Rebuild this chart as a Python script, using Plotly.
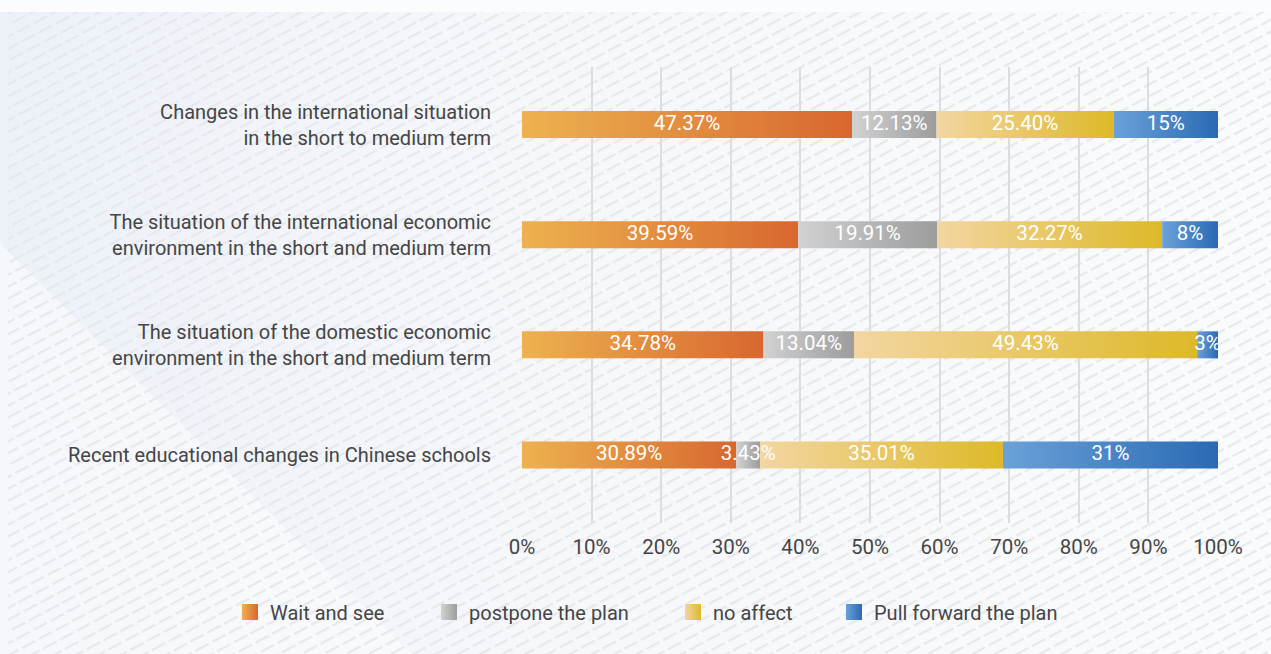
import base64
import plotly.graph_objects as go

# ---- data -------------------------------------------------------------
categories = [
    "Changes in the international situation<br>in the short to medium term",
    "The situation of the international economic<br>environment in the short and medium term",
    "The situation of the domestic economic<br>environment in the short and medium term",
    "Recent educational changes in Chinese schools",
]
series_names = ["Wait and see", "postpone the plan", "no affect", "Pull forward the plan"]
wait_and_see = [47.37, 39.59, 34.78, 30.89]
postpone_the_plan = [12.13, 19.91, 13.04, 3.43]
no_affect = [25.40, 32.27, 49.43, 35.01]
pull_forward = [15, 8, 3, 31]
x_tick_values = [0, 10, 20, 30, 40, 50, 60, 70, 80, 90, 100]
x_tick_labels = ["0%", "10%", "20%", "30%", "40%", "50%", "60%", "70%", "80%", "90%", "100%"]

# ---- styling ----------------------------------------------------------
series_values = [wait_and_see, postpone_the_plan, no_affect, pull_forward]
label_formats = ["{:.2f}%", "{:.2f}%", "{:.2f}%", "{:.0f}%"]
gradients = [
    ("#EDB24F", "#D8672F"),
    ("#D2D2D2", "#9C9C9C"),
    ("#F3D6A2", "#DDB928"),
    ("#6AA1D8", "#2A6AB4"),
]
FONT = "Roboto, 'Noto Sans', sans-serif"
TEXT_COLOR = "#454545"
FONT_SIZE = 20
BAR_HALF = 0.1225

W, H = 1271, 654
M_L, M_R, M_T, M_B = 522, 53, 67, 131
PW, PH = W - M_L - M_R, H - M_T - M_B

fig = go.Figure()

# each row is stacked to 100 %, each segment filled with a left-to-right gradient
text_x, text_y, text_s = [], [], []
for r in range(len(categories)):
    total = sum(s[r] for s in series_values)
    start = 0.0
    for s, values in enumerate(series_values):
        width = values[r] / total * 100.0
        x0, x1 = start, start + width
        y0, y1 = r - BAR_HALF, r + BAR_HALF
        left, right = gradients[s]
        fig.add_trace(go.Scatter(
            x=[x0, x1, x1, x0, x0], y=[y0, y0, y1, y1, y0],
            mode="lines", fill="toself", line=dict(width=0, color=right),
            fillgradient=dict(type="horizontal", colorscale=[[0, left], [1, right]]),
            showlegend=False, hoverinfo="skip",
        ))
        text_x.append((x0 + x1) / 2)
        text_y.append(r)
        text_s.append(label_formats[s].format(values[r]))
        start = x1

fig.add_trace(go.Scatter(
    x=text_x, y=text_y, text=text_s, mode="text",
    textposition="middle center",
    textfont=dict(family=FONT, size=FONT_SIZE + 0.5, color="#FFFFFF"),
    showlegend=False, hoverinfo="skip",
))

# legend entries: gradient squares, one legend box each
legend_left_px = [230, 429, 673, 834]
legend_ids = ["legend", "legend2", "legend3", "legend4"]
legend_layout = {}
for s, name in enumerate(series_names):
    left, right = gradients[s]
    fig.add_trace(go.Scatter(
        x=[None], y=[None], mode="markers", name=name,
        marker=dict(symbol="square", size=16, color=left,
                    gradient=dict(type="horizontal", color=right)),
        legend=legend_ids[s],
    ))
    legend_layout[legend_ids[s]] = dict(
        x=(legend_left_px[s] - M_L) / PW, xanchor="left",
        y=-(612 - (M_T + PH)) / PH, yanchor="middle",
        orientation="h", bgcolor="rgba(0,0,0,0)", borderwidth=0,
        font=dict(family=FONT, size=FONT_SIZE, color=TEXT_COLOR),
    )

# hatched background
svg = f'''<svg xmlns="http://www.w3.org/2000/svg" width="{W}" height="{H}" viewBox="0 0 {W} {H}">
<defs>
<linearGradient id="g" x1="0" y1="0" x2="1" y2="0">
<stop offset="0" stop-color="#ECF1F8"/><stop offset="0.4" stop-color="#F5F7FB"/><stop offset="1" stop-color="#FAFBFC"/>
</linearGradient>
<pattern id="p" width="19" height="10.5" patternUnits="userSpaceOnUse" patternTransform="rotate(-28)">
<line x1="0" y1="5" x2="15" y2="5" stroke="#E6E7E9" stroke-width="2"/>
</pattern>
</defs>
<rect width="{W}" height="{H}" fill="url(#g)"/>
<polygon points="0,243 411,654 0,654" fill="#FFFFFF" opacity="0.45"/>
<rect x="0" y="0" width="{W}" height="12" fill="#FBFCFD"/>
<rect x="8" y="12" width="{W - 8}" height="{H - 12}" fill="url(#p)"/>
</svg>'''
bg_src = "data:image/svg+xml;base64," + base64.b64encode(svg.encode()).decode()

fig.update_layout(
    width=W, height=H,
    margin=dict(l=M_L, r=M_R, t=M_T, b=M_B, autoexpand=False),
    paper_bgcolor="#F7F8FB", plot_bgcolor="rgba(0,0,0,0)",
    font=dict(family=FONT, size=FONT_SIZE, color=TEXT_COLOR),
    images=[dict(
        source=bg_src, xref="paper", yref="paper",
        x=-M_L / PW, y=1 + M_T / PH, sizex=W / PW, sizey=H / PH,
        xanchor="left", yanchor="top", sizing="stretch", layer="below",
    )],
    xaxis=dict(
        range=[0, 100], tickvals=x_tick_values, ticktext=x_tick_labels,
        showgrid=True, gridcolor="#DDDDDD", gridwidth=1.5,
        zeroline=False, showline=False, ticks="", ticklabelstandoff=9,
        tickfont=dict(family=FONT, size=FONT_SIZE + 0.5, color=TEXT_COLOR), fixedrange=True,
    ),
    yaxis=dict(
        range=[3.617, -0.522], tickvals=list(range(len(categories))), ticktext=categories,
        showgrid=False, zeroline=False, showline=False, ticks="", ticklabelstandoff=30,
        tickfont=dict(family=FONT, size=FONT_SIZE, color=TEXT_COLOR), fixedrange=True,
    ),
    **legend_layout,
)

fig.write_html("out.html")
